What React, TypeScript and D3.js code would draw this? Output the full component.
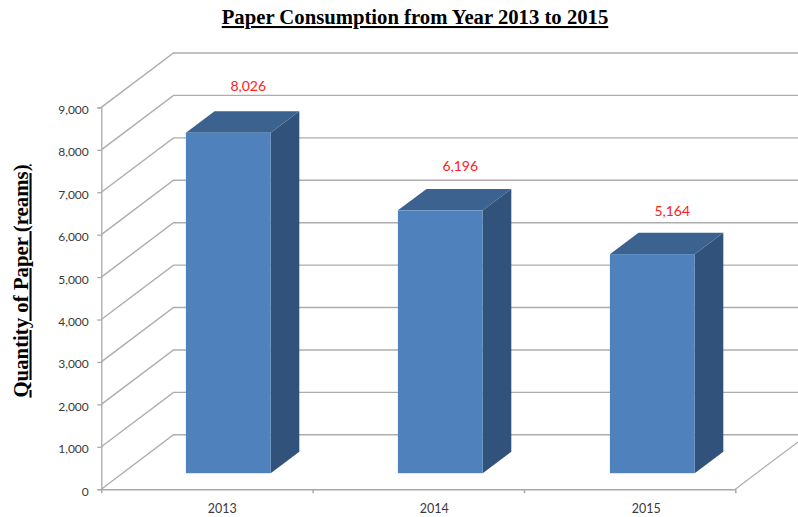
import { useEffect, useRef } from "react";
import * as d3 from "d3";

const years = ["2013", "2014", "2015"];
const reams = [8026, 6196, 5164];
const yTicks = [0, 1000, 2000, 3000, 4000, 5000, 6000, 7000, 8000, 9000];

const W = 798;
const H = 517;
const x0 = 101.3;
const x1 = 735.3;
const y0 = 489.2;
const yTop = 107.4;
// oblique offset of the back wall
const wallDx = 72.2;
const wallDy = -54.4;
// bars stand part way into the floor
const barOffX = 21;
const barOffY = -16;
const barDx = 28.6;
const barDy = -21.4;

const labelFont = "Lato, 'Open Sans', sans-serif";
const serif = "'Liberation Serif', serif";

export default function App() {
  const ref = useRef<SVGSVGElement>(null);

  useEffect(() => {
    const svg = d3.select(ref.current);
    svg.selectAll("*").remove();

    const y = d3.scaleLinear().domain([0, 9000]).range([y0, yTop]);
    const x = d3
      .scaleBand()
      .domain(years)
      .range([x0, x1 + 2])
      .paddingInner(0.6)
      .paddingOuter(0.3);
    // data labels drift a little from the bar tops in the original
    const labelY = d3.scaleLinear().domain([0, 9000]).range([441.5, 48.5]);
    const line = d3.line();

    // back wall gridlines and the slanted side wall lines
    const grid = svg.append("g").attr("fill", "none").attr("stroke", "#adadad");
    yTicks.forEach((t) => {
      grid
        .append("path")
        .attr("stroke-width", 1.4)
        .attr(
          "d",
          line([
            [x0, y(t)],
            [x0 + wallDx, y(t) + wallDy],
            [W, y(t) + wallDy],
          ])
        );
    });
    // floor edge on the right
    grid
      .append("path")
      .attr("stroke-width", 1.2)
      .attr("d", line([[x1, y0], [x1 + wallDx, y0 + wallDy]]));

    // axes
    const yAxis = d3
      .axisLeft(y)
      .tickValues(yTicks)
      .tickSize(4)
      .tickPadding(8.5)
      .tickFormat((d) => d3.format(",")(d as number));
    const gy = svg.append("g").attr("transform", `translate(${x0},0)`).call(yAxis);
    gy.selectAll("path, line").attr("stroke", "#a9a9a9").attr("stroke-width", 1.3);
    gy.selectAll("text")
      .attr("font-family", labelFont)
      .attr("font-size", 12)
      .attr("dy", "0.5em")
      .attr("fill", "#3a3a3a");

    const tickScale = d3
      .scaleLinear()
      .domain([0, years.length])
      .range([x0, x1]);
    const xAxis = d3
      .axisBottom(tickScale)
      .tickValues(d3.range(years.length + 1))
      .tickSize(4)
      .tickSizeOuter(0)
      .tickFormat(() => "");
    const gx = svg.append("g").attr("transform", `translate(0,${y0})`).call(xAxis);
    gx.selectAll("path, line").attr("stroke", "#a9a9a9").attr("stroke-width", 1.5);

    svg
      .append("g")
      .selectAll("text")
      .data(years)
      .join("text")
      .attr("x", (d) => (x(d) as number) + x.bandwidth() / 2 + 15)
      .attr("y", 512.5)
      .attr("text-anchor", "middle")
      .attr("font-family", labelFont)
      .attr("font-size", 12.5)
      .attr("fill", "#3a3a3a")
      .text((d) => d);

    // bars: front, top and side faces
    const base = y0 + barOffY;
    const h = (v: number) => y0 - y(v);
    const bars = svg
      .append("g")
      .selectAll("g")
      .data(years.map((year, i) => ({ year, value: reams[i] })))
      .join("g");

    const left = (d: { year: string }) => (x(d.year) as number) + barOffX;
    const right = (d: { year: string }) => left(d) + x.bandwidth();
    const top = (d: { value: number }) => base - h(d.value);

    bars
      .append("path")
      .attr("fill", "#31527b")
      .attr("d", (d) =>
        line([
          [right(d), top(d)],
          [right(d) + barDx, top(d) + barDy],
          [right(d) + barDx, base + barDy],
          [right(d), base],
        ])
      );
    bars
      .append("path")
      .attr("fill", "#3c628f")
      .attr("d", (d) =>
        line([
          [left(d), top(d)],
          [left(d) + barDx, top(d) + barDy],
          [right(d) + barDx, top(d) + barDy],
          [right(d), top(d)],
        ])
      );
    bars
      .append("rect")
      .attr("x", left)
      .attr("y", top)
      .attr("width", x.bandwidth())
      .attr("height", (d) => h(d.value))
      .attr("fill", "#4f81bd");

    // data labels above the bars
    bars
      .append("text")
      .attr("x", (d) => left(d) + x.bandwidth() / 2 + 20)
      .attr("y", (d) => labelY(d.value))
      .attr("text-anchor", "middle")
      .attr("font-family", labelFont)
      .attr("font-size", 14)
      .attr("fill", "#ff2020")
      .text((d) => d3.format(",")(d.value));

    svg
      .append("text")
      .attr("x", 415)
      .attr("y", 24)
      .attr("text-anchor", "middle")
      .attr("font-family", serif)
      .attr("font-weight", "bold")
      .attr("font-size", 20.7)
      .attr("text-decoration", "underline")
      .attr("fill", "#000")
      .text("Paper Consumption from Year 2013 to 2015");

    svg
      .append("text")
      .attr("transform", "translate(27.5,281) rotate(-90)")
      .attr("text-anchor", "middle")
      .attr("font-family", serif)
      .attr("font-weight", "bold")
      .attr("font-size", 20.8)
      .attr("text-decoration", "underline")
      .attr("fill", "#000")
      .text("Quantity of Paper (reams)");
  }, []);

  return (
    <svg
      ref={ref}
      width={W}
      height={H}
      style={{ position: "absolute", left: 0, top: 0, background: "#fff" }}
    ></svg>
  );
}
